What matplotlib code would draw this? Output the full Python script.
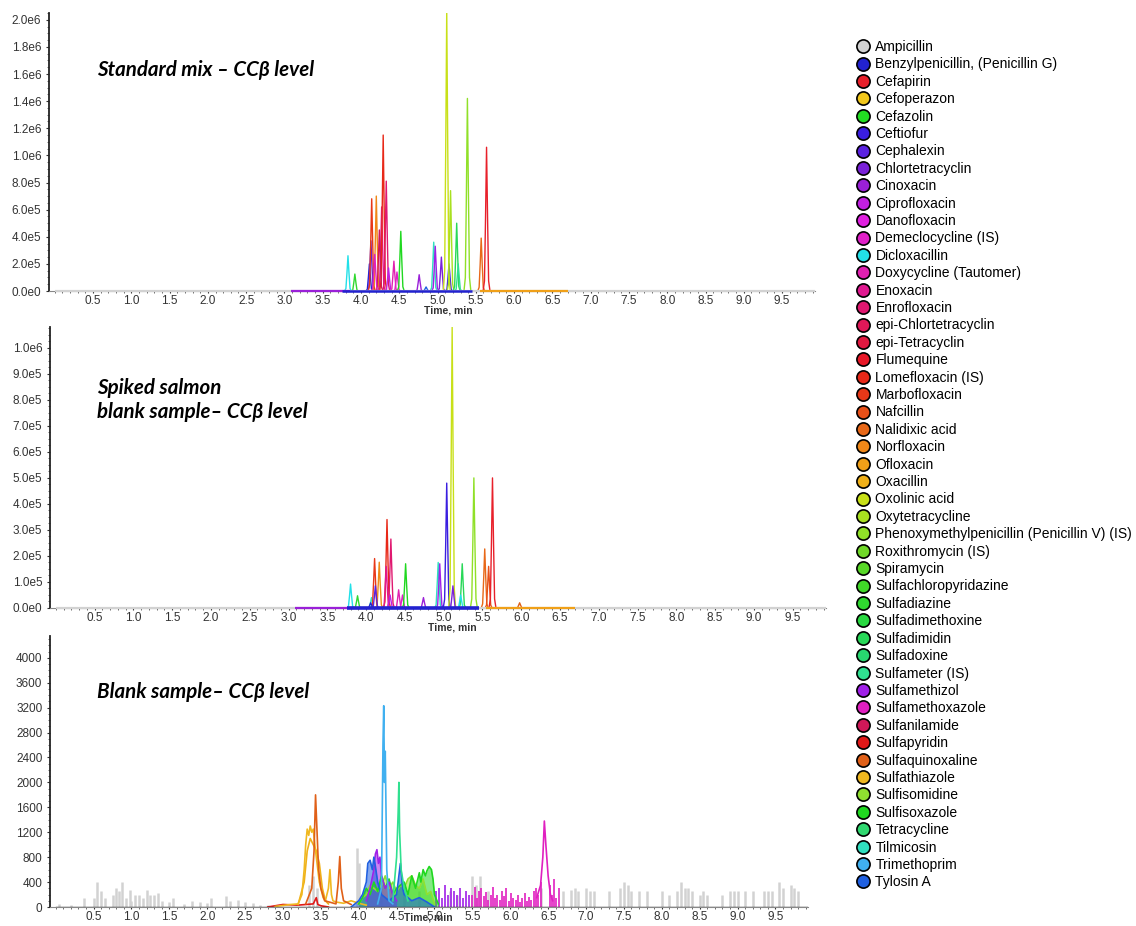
import matplotlib
matplotlib.use("Agg")
import matplotlib.pyplot as plt
from matplotlib.lines import Line2D
from matplotlib.ticker import AutoMinorLocator

plt.rcParams['font.family'] = ['Liberation Sans', 'DejaVu Sans']

# ---------------- data ----------------
compounds = ["Ampicillin", "Benzylpenicillin, (Penicillin G)", "Cefapirin", "Cefoperazon", "Cefazolin",
             "Ceftiofur", "Cephalexin", "Chlortetracyclin", "Cinoxacin", "Ciprofloxacin", "Danofloxacin",
             "Demeclocycline (IS)", "Dicloxacillin", "Doxycycline (Tautomer)", "Enoxacin", "Enrofloxacin",
             "epi-Chlortetracyclin", "epi-Tetracyclin", "Flumequine", "Lomefloxacin (IS)", "Marbofloxacin",
             "Nafcillin", "Nalidixic acid", "Norfloxacin", "Ofloxacin", "Oxacillin", "Oxolinic acid",
             "Oxytetracycline", "Phenoxymethylpenicillin (Penicillin V) (IS)", "Roxithromycin (IS)",
             "Spiramycin", "Sulfachloropyridazine", "Sulfadiazine", "Sulfadimethoxine", "Sulfadimidin",
             "Sulfadoxine", "Sulfameter (IS)", "Sulfamethizol", "Sulfamethoxazole", "Sulfanilamide",
             "Sulfapyridin", "Sulfaquinoxaline", "Sulfathiazole", "Sulfisomidine", "Sulfisoxazole",
             "Tetracycline", "Tilmicosin", "Trimethoprim", "Tylosin A"]
compound_colors = ["#d2d2d2", "#2222d0", "#e8202a", "#f2c81c", "#22dd22",
                   "#3a1ee0", "#5a22e0", "#7a22d8", "#9a20d8", "#c020e0", "#e020e0",
                   "#e020c8", "#22e0e8", "#e020b0", "#e01890", "#e01870",
                   "#e01858", "#e01840", "#e81828", "#e82818", "#e83818",
                   "#e85018", "#e86818", "#f08818", "#f0a018", "#f0b018", "#c8e018",
                   "#a8e020", "#90e028", "#70d828",
                   "#58d828", "#40d828", "#30d830", "#28d840", "#28d858",
                   "#28d870", "#30e090", "#a020e8", "#e020c0", "#d01858",
                   "#e01818", "#e06018", "#f0b820", "#90e030", "#20d820",
                   "#30d870", "#30e0c0", "#40b0f0", "#2060e0"]

# Panel 1: Standard mix - peaks (compound, retention time [min], height [cps])
std_comp = ["Dicloxacillin", "Sulfadiazine", "Benzylpenicillin, (Penicillin G)", "Cephalexin", "Marbofloxacin",
            "Norfloxacin", "Enoxacin", "Lomefloxacin (IS)", "Enrofloxacin", "Ciprofloxacin",
            "Doxycycline (Tautomer)", "Demeclocycline (IS)", "Sulfisoxazole", "Cinoxacin", "Tylosin A",
            "Tilmicosin", "Sulfamethizol", "Chlortetracyclin", "Ceftiofur", "Oxolinic acid",
            "Oxytetracycline", "Sulfadimidin", "Sulfameter (IS)", "Phenoxymethylpenicillin (Penicillin V) (IS)",
            "Nalidixic acid", "Cefapirin", "Sulfanilamide", "Sulfamethoxazole"]
std_rt = [3.83, 3.92, 4.11, 4.13, 4.14,
          4.20, 4.27, 4.29, 4.33, 4.36,
          4.43, 4.47, 4.52, 4.76, 4.85,
          4.95, 4.97, 5.05, 5.15, 5.12,
          5.17, 5.25, 5.27, 5.39,
          5.57, 5.64, 4.24, 4.18]
std_h = [2.6e5, 1.25e5, 2.0e5, 3.7e5, 6.8e5,
         7.0e5, 6.2e5, 11.5e5, 8.1e5, 1.7e5,
         2.2e5, 1.4e5, 4.4e5, 1.2e5, 0.3e5,
         3.6e5, 3.3e5, 2.5e5, 2.0e5, 20.7e5,
         7.4e5, 5.0e5, 2.0e5, 14.2e5,
         3.9e5, 10.6e5, 4.5e5, 2.7e5]

# Panel 2: Spiked salmon blank sample
spk_comp = ["Dicloxacillin", "Sulfadiazine", "Tilmicosin", "Marbofloxacin", "Norfloxacin",
            "Cephalexin", "Lomefloxacin (IS)", "Enrofloxacin", "Enoxacin", "Ciprofloxacin",
            "Doxycycline (Tautomer)", "Demeclocycline (IS)", "Sulfisoxazole", "Cinoxacin", "Tilmicosin",
            "Sulfamethizol", "Ceftiofur", "Oxolinic acid", "Chlortetracyclin", "Sulfadimidin",
            "Dicloxacillin", "Phenoxymethylpenicillin (Penicillin V) (IS)", "Nalidixic acid", "Nafcillin",
            "Cefapirin", "Sulfaquinoxaline", "Benzylpenicillin, (Penicillin G)"]
spk_rt = [3.80, 3.89, 4.07, 4.11, 4.17,
          4.12, 4.27, 4.32, 4.26, 4.31,
          4.42, 4.47, 4.51, 4.74, 4.93,
          4.95, 5.04, 5.11, 5.12, 5.24,
          5.22, 5.39, 5.53, 5.58,
          5.63, 5.98, 4.06]
spk_h = [0.92e5, 0.47e5, 0.4e5, 1.9e5, 1.76e5,
         0.85e5, 3.4e5, 2.65e5, 1.6e5, 0.5e5,
         0.7e5, 0.5e5, 1.7e5, 0.4e5, 1.75e5,
         1.7e5, 4.8e5, 10.8e5, 0.85e5, 1.7e5,
         0.5e5, 5.0e5, 2.27e5, 1.6e5,
         5.0e5, 0.2e5, 0.2e5]

# Baselines (compound, start, end) for panels 1 and 2
base_comp = ["Ampicillin", "Cinoxacin", "Benzylpenicillin, (Penicillin G)", "Ofloxacin"]
base_start = [0.0, 3.08, 3.75, 5.55]
base_end = [9.93, 3.85, 5.45, 6.7]

# Panel 3: Blank sample traces (time [min], intensity [cps])
blank_traces = {
    "Sulfapyridin": ([2.8, 3.0, 3.2, 3.4, 3.44, 3.46, 3.5, 3.6],
                     [0, 40, 30, 50, 150, 40, 20, 0]),
    "Oxacillin": ([3.2, 3.28, 3.32, 3.36, 3.4, 3.44, 3.48, 3.52, 3.56, 3.6],
                  [40, 400, 900, 1100, 1000, 900, 700, 300, 100, 50]),
    "Sulfathiazole": ([2.9, 3.1, 3.2, 3.25, 3.28, 3.3, 3.32, 3.34, 3.36, 3.38, 3.40, 3.42, 3.44, 3.46, 3.48,
                       3.5, 3.53, 3.56, 3.6, 3.62, 3.64, 3.66, 3.7, 3.8, 3.9, 4.0, 4.1],
                      [10, 40, 50, 200, 600, 1000, 1250, 1150, 1300, 1200, 1250, 1000, 800, 600, 400,
                       300, 150, 100, 300, 600, 200, 100, 80, 60, 100, 60, 30]),
    "Sulfaquinoxaline": ([3.3, 3.38, 3.41, 3.43, 3.45, 3.47, 3.5, 3.55, 3.7, 3.73, 3.75, 3.77, 3.8, 3.9],
                         [50, 300, 900, 1800, 1200, 600, 300, 100, 50, 400, 810, 300, 100, 40]),
    "Sulfisomidine": ([4.0, 4.05, 4.1, 4.15, 4.2, 4.25, 4.3, 4.35, 4.4, 4.45, 4.5, 4.55, 4.6, 4.65, 4.7,
                       4.75, 4.8, 4.85, 4.9, 4.95, 5.0],
                      [50, 150, 200, 350, 300, 250, 350, 500, 300, 400, 250, 350, 300, 450, 500,
                       350, 300, 450, 200, 250, 50]),
    "Sulfisoxazole": ([4.0, 4.05, 4.1, 4.15, 4.2, 4.25, 4.3, 4.35, 4.4, 4.45, 4.5, 4.6, 4.65, 4.7, 4.75,
                       4.8, 4.82, 4.85, 4.88, 4.9, 4.93, 4.96, 4.98, 5.0, 5.05],
                      [50, 150, 300, 200, 400, 250, 500, 300, 450, 200, 300, 400, 200, 500, 300,
                       550, 400, 600, 500, 580, 650, 600, 450, 200, 50]),
    "Sulfamethizol": ([4.1, 4.15, 4.2, 4.22, 4.24, 4.26, 4.28, 4.3, 4.35, 4.4, 4.45, 4.5],
                      [100, 300, 600, 850, 920, 700, 800, 500, 300, 400, 200, 100]),
    "Tylosin A": ([3.9, 4.0, 4.05, 4.1, 4.12, 4.15, 4.18, 4.2, 4.22, 4.25, 4.3, 4.4, 4.5, 4.53, 4.55,
                   4.58, 4.6, 4.7, 4.8, 4.9, 5.0],
                  [0, 100, 200, 400, 700, 750, 600, 800, 650, 400, 200, 100, 200, 500, 700,
                   300, 200, 100, 150, 80, 0]),
    "Sulfameter (IS)": ([4.45, 4.5, 4.52, 4.53, 4.54, 4.56, 4.6, 4.65],
                        [100, 800, 1500, 2000, 1200, 600, 300, 100]),
    "Trimethoprim": ([4.25, 4.3, 4.32, 4.33, 4.34, 4.35, 4.37, 4.4, 4.45],
                     [50, 300, 2600, 3230, 2000, 2500, 600, 100, 50]),
    "Sulfamethoxazole": ([6.35, 6.4, 6.43, 6.45, 6.47, 6.5, 6.53, 6.56],
                         [150, 350, 800, 1380, 1000, 500, 200, 100]),
}
filled_traces = ["Sulfisomidine", "Sulfisoxazole", "Tylosin A", "Sulfamethizol"]

# Noise spikes (compound, time, height) in the blank sample
spike_t = {
    "Ampicillin": [0.05, 0.2, 0.37, 0.5, 0.55, 0.6, 0.65, 0.75, 0.8, 0.83, 0.88, 0.93, 0.98, 1.0, 1.05,
                   1.1, 1.15, 1.2, 1.25, 1.3, 1.35, 1.4, 1.5, 1.55, 1.7, 1.8, 1.9, 2.0, 2.05, 2.25, 2.3,
                   2.4, 2.5, 2.6, 2.7, 2.8, 3.35, 3.4, 3.45, 3.98, 4.0, 4.3, 4.6, 4.8, 5.2, 5.3, 5.5,
                   5.55, 5.6, 5.7, 6.4, 6.7, 6.8, 6.85, 6.9, 7.0, 7.05, 7.1, 7.3, 7.45, 7.5, 7.55, 7.6,
                   7.7, 7.8, 8.0, 8.1, 8.2, 8.25, 8.3, 8.35, 8.4, 8.5, 8.55, 8.6, 8.8, 8.9, 8.95, 9.0,
                   9.1, 9.2, 9.35, 9.4, 9.45, 9.55, 9.6, 9.7, 9.75, 9.8, 9.95],
    "Sulfamethizol": [5.02, 5.06, 5.1, 5.14, 5.18, 5.22, 5.26, 5.3, 5.34, 5.38, 5.42, 5.46],
    "Sulfamethoxazole": [5.5, 5.53, 5.56, 5.59, 5.62, 5.65, 5.68, 5.71, 5.74, 5.77, 5.8, 5.83, 5.86,
                         5.89, 5.92, 5.95, 5.98, 6.01, 6.04, 6.07, 6.1, 6.13, 6.16, 6.19, 6.22, 6.25,
                         6.28, 6.31, 6.34, 6.37, 6.4, 6.52, 6.55, 6.58, 6.61, 6.64],
}
spike_h = {
    "Ampicillin": [50, 30, 140, 150, 400, 250, 150, 200, 300, 250, 400, 150, 280, 100, 200,
                   200, 150, 270, 200, 200, 220, 100, 80, 150, 50, 100, 80, 60, 150, 180, 100,
                   120, 80, 60, 40, 30, 350, 500, 300, 950, 700, 400, 300, 250, 250, 200, 500,
                   350, 500, 250, 300, 250, 280, 300, 250, 300, 250, 250, 250, 300, 400, 350, 250,
                   250, 250, 250, 200, 250, 400, 300, 300, 250, 200, 250, 200, 200, 250, 250, 250,
                   250, 250, 250, 250, 250, 400, 300, 350, 300, 250, 200],
    "Sulfamethizol": [250, 300, 150, 350, 200, 300, 250, 200, 300, 150, 250, 200],
    "Sulfamethoxazole": [200, 320, 150, 250, 300, 180, 240, 120, 200, 320, 150, 200, 120,
                         250, 180, 300, 100, 220, 150, 120, 200, 80, 150, 220, 100, 160,
                         120, 250, 300, 200, 400, 350, 200, 450, 150, 300],
}

panel_titles = ["Standard mix \u2013 CC\u03b2 level", "Spiked salmon\nblank sample\u2013 CC\u03b2 level",
                "Blank sample\u2013 CC\u03b2 level"]
x_ticks = [0.5, 1.0, 1.5, 2.0, 2.5, 3.0, 3.5, 4.0, 4.5, 5.0, 5.5, 6.0, 6.5, 7.0, 7.5, 8.0, 8.5, 9.0, 9.5]
std_yticks = [0, 2e5, 4e5, 6e5, 8e5, 1.0e6, 1.2e6, 1.4e6, 1.6e6, 1.8e6, 2.0e6]
std_ylabels = ["0.0e0", "2.0e5", "4.0e5", "6.0e5", "8.0e5", "1.0e6", "1.2e6", "1.4e6", "1.6e6", "1.8e6", "2.0e6"]
spk_yticks = [0, 1e5, 2e5, 3e5, 4e5, 5e5, 6e5, 7e5, 8e5, 9e5, 1.0e6]
spk_ylabels = ["0.0e0", "1.0e5", "2.0e5", "3.0e5", "4.0e5", "5.0e5", "6.0e5", "7.0e5", "8.0e5", "9.0e5", "1.0e6"]
blank_yticks = [0, 400, 800, 1200, 1600, 2000, 2400, 2800, 3200, 3600, 4000]

# ---------------- style ----------------
color_of = dict(zip(compounds, compound_colors))
PEAK_HALF_WIDTH = 0.045
SHAPE_X = [-1.0, -0.6, -0.3, 0.0, 0.3, 0.6, 1.0]
SHAPE_Y = [0.0, 0.07, 0.5, 1.0, 0.5, 0.07, 0.0]

fig = plt.figure(figsize=(11.36, 9.26), dpi=100)
W, H = 1136, 926


def axes_px(left, top, right, bottom):
    return fig.add_axes([left / W, 1 - bottom / H, (right - left) / W, (bottom - top) / H])


ax1 = axes_px(49, 13, 815, 291)
ax2 = axes_px(50, 327, 826, 608)
ax3 = axes_px(50, 636, 808, 907)


def style_axis(ax, ylim, yticks, ylabels):
    ax.set_xlim(-0.075, 9.93)
    ax.set_ylim(0, ylim)
    for s in ("top", "right"):
        ax.spines[s].set_visible(False)
    ax.spines["left"].set_linewidth(1.3)
    ax.spines["left"].set_color("#222222")
    ax.spines["bottom"].set_color("#888888")
    ax.spines["bottom"].set_linewidth(0.8)
    ax.set_xticks(x_ticks)
    ax.set_xticklabels([f"{t:.1f}" for t in x_ticks])
    ax.set_yticks(yticks)
    ax.set_yticklabels(ylabels)
    ax.xaxis.set_minor_locator(AutoMinorLocator(5))
    ax.yaxis.set_minor_locator(AutoMinorLocator(4))
    ax.tick_params(axis="x", which="major", labelsize=8.5, labelcolor="#333333", length=1.5,
                   width=0.8, color="#333333", pad=1.5)
    ax.tick_params(axis="y", which="major", labelsize=8.5, labelcolor="#333333", length=2.5,
                   width=0.8, color="#333333", pad=3)
    ax.tick_params(axis="both", which="minor", length=1.2, width=0.6, color="#555555")
    ax.set_facecolor("none")


def draw_peaks(ax, comps, rts, hs):
    for c, rt, h in zip(comps, rts, hs):
        xs = [rt + dx * PEAK_HALF_WIDTH for dx in SHAPE_X]
        ys = [h * f for f in SHAPE_Y]
        ax.plot(xs, ys, color=color_of[c], lw=1.0, clip_on=True, zorder=3)


def draw_baselines(ax, lw_blue):
    for c, t0, t1 in zip(base_comp, base_start, base_end):
        lw = lw_blue if c.startswith("Benzyl") else 1.6
        ax.plot([t0, t1], [0, 0], color=color_of[c], lw=lw, solid_capstyle="butt", clip_on=False, zorder=4)


style_axis(ax1, 2.05e6, std_yticks, std_ylabels)
draw_baselines(ax1, 1.8)
draw_peaks(ax1, std_comp, std_rt, std_h)

style_axis(ax2, 1.08e6, spk_yticks, spk_ylabels)
draw_baselines(ax2, 2.6)
draw_peaks(ax2, spk_comp, spk_rt, spk_h)

style_axis(ax3, 4350, blank_yticks, [str(v) for v in blank_yticks])
for c in spike_t:
    lw = 1.8 if c == "Ampicillin" else 1.2
    ax3.vlines(spike_t[c], 0, spike_h[c], color=color_of[c], lw=lw, zorder=2)
for c, (ts, ys) in blank_traces.items():
    if c in filled_traces:
        ax3.fill_between(ts, 0, ys, color=color_of[c], alpha=0.55, lw=0, zorder=2)
    ax3.plot(ts, ys, color=color_of[c], lw=1.2, zorder=3)
ax3.plot([0, 9.93], [0, 0], color="#333333", lw=1.0, zorder=4)

# Panel titles
title_font = dict(family=["Lato", "DejaVu Sans"], fontsize=14.8, fontweight="bold", fontstyle="italic",
                  color="black")
fig.text(97 / W, 1 - 70 / H, panel_titles[0], va="center", ha="left", **title_font)
fig.text(97 / W, 1 - 400 / H, panel_titles[1], va="center", ha="left", linespacing=1.2, **title_font)
fig.text(97 / W, 1 - 692 / H, panel_titles[2], va="center", ha="left", **title_font)

# axis labels
for xc, yc in ((448, 310), (452, 627), (428, 918)):
    fig.text(xc / W, 1 - yc / H, "Time, min", ha="center", va="center", fontsize=7.5,
             fontweight="bold", color="#333333")

# Legend
handles = [Line2D([], [], marker="o", linestyle="none", markersize=9.5, markerfacecolor=col,
                  markeredgecolor="black", markeredgewidth=1.2) for col in compound_colors]
fig.legend(handles, compounds, loc="upper left", bbox_to_anchor=(856 / W, 1 - 40 / H),
           frameon=False, fontsize=10, labelspacing=0.245, handletextpad=0.4, handlelength=1.0,
           borderaxespad=0, borderpad=0)

fig.savefig("out.png", dpi=100)
